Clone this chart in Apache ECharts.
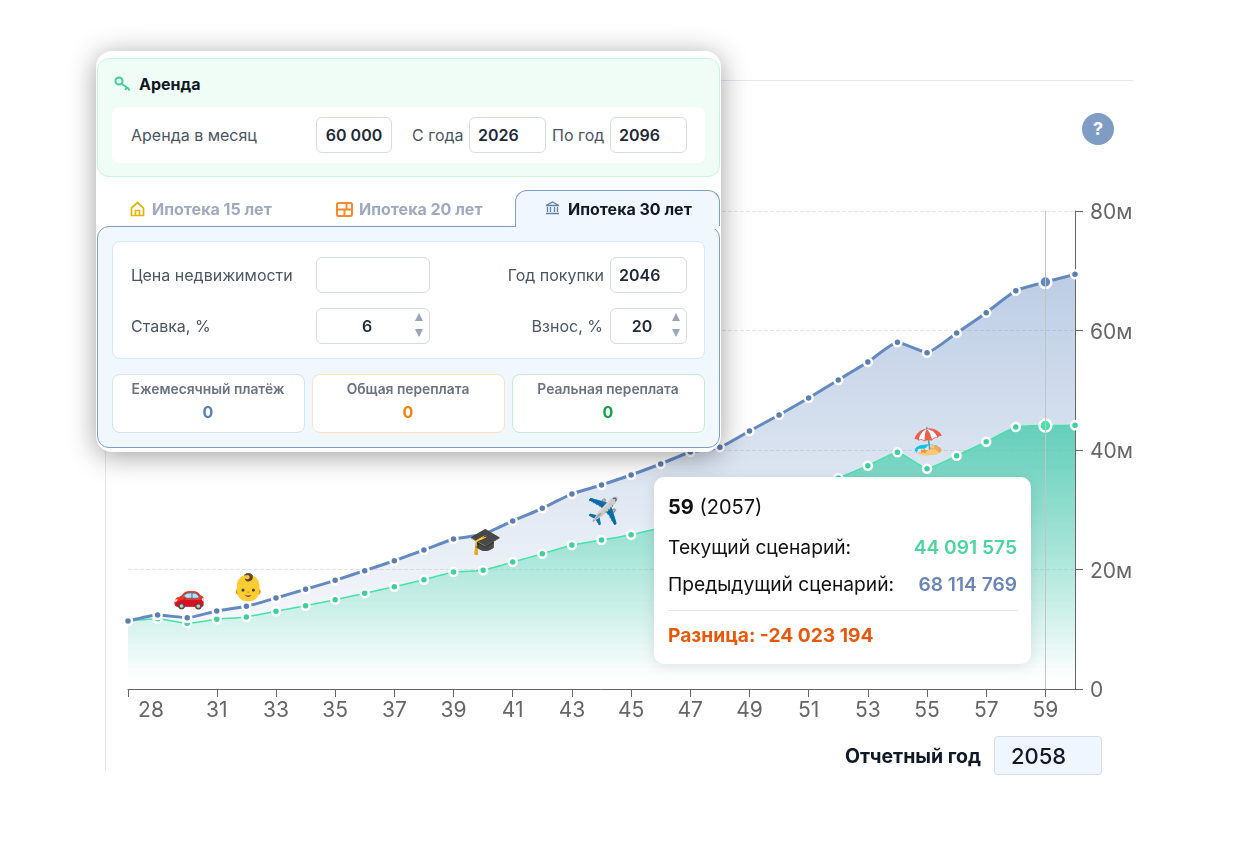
<!DOCTYPE html>
<html lang="ru">
<head>
<meta charset="utf-8">
<title>Сравнение сценариев</title>
<script src="https://cdn.jsdelivr.net/npm/echarts@6/dist/echarts.min.js"></script>
<style>
html,body{margin:0;padding:0;background:#fff;font-family:Inter,"Noto Sans",sans-serif;}
#stage{position:relative;width:1249px;height:860px;overflow:hidden;}
#chart{position:absolute;left:0;top:0;width:1249px;height:860px;}
.box{position:absolute;box-sizing:border-box;}
.t{position:absolute;white-space:nowrap;line-height:20px;transform:translateY(-50%);color:#4b5563;font-size:16px;}
.r{transform:translate(-100%,-50%);}
.c{transform:translate(-50%,-50%);}
.inp{position:absolute;box-sizing:border-box;background:#fff;border:1px solid #d5dce8;border-radius:6px;}
.v{color:#1f2937;font-weight:600;}
.up,.dn{position:absolute;width:0;height:0;border-left:4px solid transparent;border-right:4px solid transparent;}
.up{border-bottom:8px solid #9aa5bb;}
.dn{border-top:8px solid #9aa5bb;}
svg{position:absolute;}
</style>
</head>
<body>
<div id="stage">
  <div class="box" style="left:720px;top:80px;width:413px;height:1px;background:#e5e7f0"></div>
  <div class="box" style="left:105px;top:440px;width:1px;height:331px;background:#e5e7f0"></div>
  <div id="chart"></div>

  <div class="box" style="left:1082px;top:113px;width:32px;height:32px;border-radius:50%;background:#7f9cc4;color:#fff;font-weight:700;font-size:18px;line-height:32px;text-align:center">?</div>
  <div class="t" style="left:845px;top:755.5px;font-weight:700;font-size:19.5px;color:#111827">Отчетный год</div>
  <div class="box" style="left:994px;top:736px;width:108px;height:39px;background:#eff6ff;border:1px solid #d3deea;border-radius:4px"></div>
  <div class="t" style="left:1011px;top:756px;font-size:22px;font-weight:500;color:#111827">2058</div>

  <!-- panel -->
  <div class="box" style="left:96px;top:51px;width:625px;height:401px;background:#fff;border-radius:16px;box-shadow:0 4px 28px rgba(0,0,0,.38)">
  </div>
  <div class="box" style="left:97px;top:58px;width:623px;height:119px;background:#f0fdf6;border:1px solid #c8f5db;border-radius:12px"></div>
  <svg style="left:114px;top:76px" width="17" height="15" viewBox="0 0 17 15"><circle cx="5" cy="5" r="3.5" fill="none" stroke="#3ecf9a" stroke-width="2"/><path d="M8 8 L15 13 M12.5 11 L11.5 14 M15 13 L15 14.5" stroke="#3ecf9a" stroke-width="2" fill="none"/></svg>
  <div class="t" style="left:139px;top:84px;font-weight:700;color:#111827">Аренда</div>
  <div class="box" style="left:112px;top:107px;width:593px;height:56px;background:#fff;border-radius:8px"></div>
  <div class="t" style="left:131px;top:135px">Аренда в месяц</div>
  <div class="inp" style="left:316px;top:117px;width:76px;height:36px"></div>
  <div class="t v c" style="left:354px;top:135px">60 000</div>
  <div class="t" style="left:412px;top:135px">С года</div>
  <div class="inp" style="left:469px;top:117px;width:77px;height:36px"></div>
  <div class="t v" style="left:478px;top:135px">2026</div>
  <div class="t" style="left:552px;top:135px">По год</div>
  <div class="inp" style="left:610px;top:117px;width:77px;height:36px"></div>
  <div class="t v" style="left:619px;top:135px">2096</div>

  <!-- tabs -->
  <svg style="left:130px;top:201px" width="15" height="16" viewBox="0 0 15 16"><path d="M1.5 7 L7.5 1.5 L13.5 7 V14.5 H1.5 Z M5.5 14.5 V9.5 H9.5 V14.5" fill="none" stroke="#eab308" stroke-width="1.7"/></svg>
  <div class="t" style="left:152px;top:209px;font-weight:700;color:#a0aabf">Ипотека 15 лет</div>
  <svg style="left:336px;top:202px" width="17" height="15" viewBox="0 0 17 15"><rect x="1" y="1" width="15" height="13" rx="1.5" fill="none" stroke="#f9882b" stroke-width="2"/><path d="M1 7.5 H16 M8.5 7.5 V14 M10.5 1 V7.5" stroke="#f9882b" stroke-width="2"/></svg>
  <div class="t" style="left:359px;top:209px;font-weight:700;color:#a0aabf">Ипотека 20 лет</div>
  <div class="box" style="left:515px;top:190px;width:205px;height:38px;background:#f0f7ff;border:1px solid #7f9cc4;border-bottom:none;border-radius:12px 12px 0 0"></div>
  <svg style="left:545px;top:201px" width="15" height="14" viewBox="0 0 15 14"><path d="M1 4.5 L7.5 1 L14 4.5 Z M2.5 6 V11 M5.5 6 V11 M9.5 6 V11 M12.5 6 V11 M1 12.5 H14" fill="none" stroke="#5f80b0" stroke-width="1.3"/></svg>
  <div class="t" style="left:568px;top:209px;font-weight:700;color:#111827">Ипотека 30 лет</div>

  <!-- mortgage block -->
  <div class="box" style="left:97px;top:226px;width:623px;height:222px;background:#f0f7ff;border:1px solid #7f9cc4;border-radius:12px"></div>
  <div class="box" style="left:515.5px;top:226px;width:204px;height:3px;background:#f0f7ff"></div>
  <div class="box" style="left:112px;top:241px;width:593px;height:118px;background:#fff;border:1px solid #d3e9fb;border-radius:8px"></div>
  <div class="t" style="left:131px;top:274.5px">Цена недвижимости</div>
  <div class="inp" style="left:316px;top:257px;width:114px;height:36px"></div>
  <div class="t r" style="left:604px;top:274.5px">Год покупки</div>
  <div class="inp" style="left:610px;top:257px;width:77px;height:36px"></div>
  <div class="t v" style="left:619px;top:275px">2046</div>
  <div class="t" style="left:131px;top:326px">Ставка, %</div>
  <div class="inp" style="left:316px;top:308px;width:114px;height:36px"></div>
  <div class="t v c" style="left:367px;top:326px">6</div>
  <div class="up" style="left:415px;top:313px"></div><div class="dn" style="left:415px;top:329px"></div>
  <div class="t r" style="left:603px;top:326px">Взнос, %</div>
  <div class="inp" style="left:610px;top:308px;width:77px;height:36px"></div>
  <div class="t v c" style="left:642px;top:326px">20</div>
  <div class="up" style="left:672px;top:313px"></div><div class="dn" style="left:672px;top:329px"></div>

  <div class="box" style="left:112px;top:374px;width:193px;height:59px;background:#fff;border:1px solid #d3e3f1;border-radius:8px"></div>
  <div class="t c" style="left:208px;top:389px;font-size:13.8px;font-weight:600;color:#6b7280">Ежемесячный платёж</div>
  <div class="t c" style="left:208px;top:412px;font-size:16px;font-weight:700;color:#5b80b5">0</div>
  <div class="box" style="left:312px;top:374px;width:193px;height:59px;background:#fff;border:1px solid #fde3c2;border-radius:8px"></div>
  <div class="t c" style="left:408px;top:389px;font-size:13.8px;font-weight:600;color:#6b7280">Общая переплата</div>
  <div class="t c" style="left:408px;top:412px;font-size:16px;font-weight:700;color:#f97f0f">0</div>
  <div class="box" style="left:512px;top:374px;width:193px;height:59px;background:#fff;border:1px solid #c6ebd4;border-radius:8px"></div>
  <div class="t c" style="left:608px;top:389px;font-size:13.8px;font-weight:600;color:#6b7280">Реальная переплата</div>
  <div class="t c" style="left:608px;top:412px;font-size:16px;font-weight:700;color:#16a34a">0</div>
</div>

<script>
const ages = ['28','29','30','31','32','33','34','35','36','37','38','39','40','41','42','43','44','45','46','47','48','49','50','51','52','53','54','55','56','57','58','59','60'];
const previousScenario = [11380000,12380000,11930000,13050000,13840000,15230000,16690000,18190000,19800000,21470000,23260000,25100000,25890000,28120000,30240000,32640000,34140000,35820000,37660000,39670000,40450000,43180000,45860000,48700000,51720000,54730000,58030000,56290000,59580000,62980000,66660000,68114769,69400000];
const currentScenario = [11380000,11770000,11000000,11670000,12050000,13000000,13940000,14950000,16020000,17120000,18290000,19580000,19870000,21260000,22640000,24100000,24940000,25820000,26950000,27950000,29120000,30460000,31970000,33470000,35310000,37370000,39620000,36870000,39050000,41390000,43850000,44091575,44130000];
const eventAges = ['30','32','40','44','55'];
const eventLevels = [15500000,16800000,24600000,29500000,41300000];
const eventIcons = ['🚗','👶','🎓','✈️','🏖️'];
const yTicks = [0,20000000,40000000,60000000,80000000];
const hoverIndex = ages.indexOf('59');
const birthOffset = 1998;

const fmt = n => Math.abs(n).toString().replace(/\B(?=(\d{3})+$)/g,' ');
const font = 'Inter, "Noto Sans", sans-serif';
const xTickShown = (i,v) => i===0 || (+v>=31 && +v%2===1);

const chart = echarts.init(document.getElementById('chart'), null, {renderer:'canvas'});
chart.setOption({
  animation:false,
  textStyle:{fontFamily:font},
  grid:{left:128,right:174,top:211,bottom:171,containLabel:false},
  tooltip:{
    trigger:'axis',
    position:[654,477],
    transitionDuration:0,
    padding:0,
    borderWidth:0,
    backgroundColor:'transparent',
    extraCssText:'box-shadow:none;',
    axisPointer:{type:'line',lineStyle:{color:'#c4c4c4',width:1,type:'solid'},label:{show:false}},
    formatter(){
      const i = hoverIndex, cur=currentScenario[i], prev=previousScenario[i], d=cur-prev;
      return `<div style="box-sizing:border-box;width:377px;height:187px;background:#fff;border-radius:10px;box-shadow:0 2px 14px rgba(0,0,0,.1);padding:0 14px;font-family:${font.replace(/"/g,"'")};color:#111;font-size:19.2px;line-height:22px;position:relative">
        <div style="position:absolute;left:14px;top:18.5px;font-size:20px"><b style="font-weight:700">${ages[i]}</b> (${+ages[i]+birthOffset})</div>
        <div style="position:absolute;left:14px;top:59px">Текущий сценарий:</div>
        <div style="position:absolute;right:14px;top:59px;font-weight:600;color:#4bd6a0">${fmt(cur)}</div>
        <div style="position:absolute;left:14px;top:96px">Предыдущий сценарий:</div>
        <div style="position:absolute;right:14px;top:96px;font-weight:600;color:#6a86b8">${fmt(prev)}</div>
        <div style="position:absolute;left:14px;right:13px;top:133px;height:1px;background:#e5e7eb"></div>
        <div style="position:absolute;left:14px;top:147px;font-weight:700;color:#ea580c">Разница: ${d<0?'-':''}${fmt(d)}</div>
      </div>`;
    }
  },
  xAxis:{
    type:'category',
    data:ages,
    boundaryGap:false,
    axisLine:{lineStyle:{color:'#666',width:1}},
    axisTick:{show:true,length:8,alignWithLabel:true,interval:xTickShown,lineStyle:{color:'#666'}},
    axisLabel:{
      interval:xTickShown,
      hideOverlap:false,
      fontSize:21,
      color:'#666',
      fontFamily:font,
      margin:11,
      formatter:(v,i)=> i===0 ? '{f|'+v+'}' : v,
      rich:{f:{fontSize:21,color:'#666',fontFamily:font,padding:[0,0,0,46]}}
    },
    splitLine:{show:false}
  },
  yAxis:{
    type:'value',
    position:'right',
    min:0,max:80000000,interval:20000000,
    axisLine:{show:true,lineStyle:{color:'#666',width:1}},
    axisTick:{show:true,length:8,lineStyle:{color:'#666'}},
    axisLabel:{margin:15,
      formatter:v=> '{y|'+(yTicks.includes(v)&&v!==0 ? (v/1000000)+'м' : String(v))+'}',
      rich:{y:{fontSize:21,color:'#666',fontFamily:font,padding:[4,0,0,0]}}},
    splitLine:{show:true,lineStyle:{color:'#e6e6e6',type:'dashed',width:1}}
  },
  series:[
    {
      name:'Текущий сценарий, заливка',type:'line',data:currentScenario,smooth:0.15,z:1,
      symbol:'none',silent:true,lineStyle:{width:0},
      areaStyle:{opacity:1,color:new echarts.graphic.LinearGradient(0,0,0,1,[{offset:0,color:'rgba(62,207,154,0.82)'},{offset:0.95,color:'rgba(62,207,154,0)'},{offset:1,color:'rgba(62,207,154,0)'}])}
    },
    {
      name:'Предыдущий сценарий, заливка',type:'line',data:previousScenario,smooth:0.15,z:1,
      symbol:'none',silent:true,lineStyle:{width:0},
      areaStyle:{opacity:1,color:new echarts.graphic.LinearGradient(0,0,0,1,[{offset:0,color:'rgba(91,127,176,0.43)'},{offset:1,color:'rgba(91,127,176,0)'}])}
    },
    {
      name:'Текущий сценарий',type:'line',data:currentScenario,smooth:0.15,z:3,
      symbol:'circle',symbolSize:8,showSymbol:true,showAllSymbol:true,
      lineStyle:{color:'#3ecf9a',width:1.5},
      itemStyle:{color:'#3ecf9a',borderColor:'#fff',borderWidth:2.5},
      emphasis:{scale:1.5}
    },
    {
      name:'Предыдущий сценарий',type:'line',data:previousScenario,smooth:0.15,z:4,
      symbol:'circle',symbolSize:8,showSymbol:true,showAllSymbol:true,
      lineStyle:{color:'#5b7db0',width:3},
      itemStyle:{color:'#5b7db0',borderColor:'#fff',borderWidth:2.5},
      emphasis:{scale:1.5}
    },
    {
      name:'События',type:'scatter',z:5,silent:true,
      data:eventAges.map((a,i)=>[a,eventLevels[i]]),
      symbolSize:0,
      tooltip:{show:false},
      label:{show:true,position:'inside',offset:[2,0],fontSize:26,fontFamily:'"Noto Color Emoji",sans-serif',formatter:p=>eventIcons[p.dataIndex]}
    }
  ]
});
chart.dispatchAction({type:'showTip',seriesIndex:3,dataIndex:hoverIndex});
</script>
</body>
</html>
